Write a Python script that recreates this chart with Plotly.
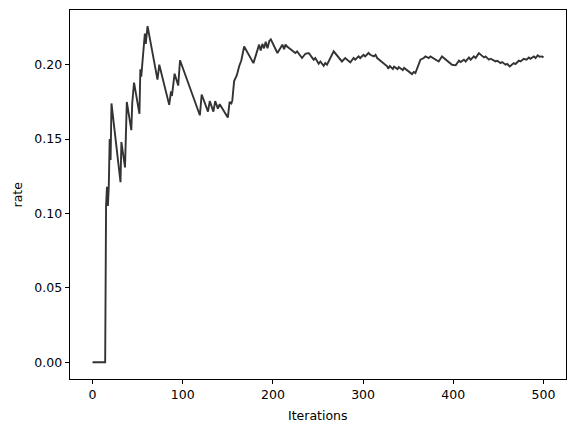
import plotly.graph_objects as go

# Vertices (iteration, rate)
iterations = [0, 14, 15, 16, 17, 18, 19, 20, 21,
              31, 32, 36, 38, 43, 44, 46, 52, 53, 54, 57, 58, 59, 61,
              72, 74, 85, 87, 88, 91, 95, 97,
              119, 121, 128, 130, 134, 136, 139, 141, 150, 152, 154, 155, 157, 160, 162.6, 165, 168.1,
              178.4, 184.7, 186.5, 188.3, 190.2, 192, 194, 196, 197.7,
              205, 210.5, 212.4, 214, 215.7, 224.9, 226.8, 232.3, 236, 239.7,
              245.2, 247, 250.8, 252.6, 256.3, 258.1, 260, 267.4, 276.5, 280.2, 285.8,
              289.5, 291.3, 295, 296.8, 300.5, 302.3, 306, 307.9,
              311.9, 313.8, 315.6, 326.7, 327.8, 329.6, 333, 334.4, 338.2, 339.6, 344, 345.5,
              354.3, 356.2, 358, 363.6, 367.3, 369.1, 372.8, 374.7, 383.8, 387.5, 398.6,
              402.7, 406.3, 408.2, 411.8, 413.7, 417.4, 419.2, 422.9, 424.8, 428.4,
              434, 435.8, 439.5, 441.4, 446.9, 448.8, 452.4, 454.3, 458, 459.8, 462.7,
              467.1, 469, 472.7, 474.6, 478.2, 481.2, 483.8, 485.6, 489.3, 491.2, 493.7, 495.9, 498.6, 500]
rate = [0.0, 0.0, 0.105, 0.118, 0.105, 0.118, 0.150, 0.136, 0.174,
        0.121, 0.148, 0.131, 0.175, 0.156, 0.174, 0.188, 0.167, 0.197, 0.192, 0.213, 0.221, 0.214, 0.226,
        0.190, 0.200, 0.173, 0.182, 0.179, 0.194, 0.186, 0.203,
        0.166, 0.180, 0.1685, 0.1755, 0.1685, 0.1755, 0.1705, 0.1735, 0.1645, 0.175, 0.174, 0.176, 0.189, 0.193, 0.199, 0.203, 0.2123,
        0.2011, 0.2135, 0.2095, 0.214, 0.211, 0.2155, 0.211, 0.216, 0.217,
        0.2079, 0.2135, 0.2105, 0.2135, 0.2123, 0.2079, 0.2090, 0.2045, 0.2074, 0.2079,
        0.2034, 0.2045, 0.2007, 0.2022, 0.1993, 0.2011, 0.2000, 0.2090, 0.2022, 0.2045, 0.2016,
        0.2045, 0.2034, 0.2056, 0.2045, 0.2067, 0.2056, 0.2079, 0.2067,
        0.2056, 0.2067, 0.2045, 0.1989, 0.1973, 0.1991, 0.1971, 0.1987, 0.1971, 0.1984, 0.1964, 0.1978,
        0.1937, 0.1951, 0.1944, 0.2034, 0.2045, 0.2056, 0.2045, 0.2056, 0.2022, 0.2056, 0.2000,
        0.1996, 0.2027, 0.2018, 0.2034, 0.2022, 0.2049, 0.2034, 0.2056, 0.2045, 0.2078,
        0.2049, 0.2056, 0.2034, 0.2040, 0.2022, 0.2027, 0.2011, 0.2018, 0.2000, 0.2005, 0.1989,
        0.2011, 0.2005, 0.2027, 0.2022, 0.2040, 0.2034, 0.2049, 0.2040, 0.2056, 0.2045, 0.2063, 0.2054, 0.2056, 0.2049]

x_ticks = [0, 100, 200, 300, 400, 500]
y_ticks = [0.00, 0.05, 0.10, 0.15, 0.20]

fig = go.Figure()
fig.add_trace(go.Scatter(x=iterations, y=rate, mode="lines",
                         line=dict(color="#333333", width=1.9),
                         showlegend=False, hoverinfo="skip"))

font = dict(family="DejaVu Sans", size=12.5, color="black")
axis_common = dict(showline=True, linecolor="black", linewidth=1, mirror=True,
                   ticks="outside", ticklen=4.4, tickwidth=1, tickcolor="black",
                   showgrid=False, zeroline=False, tickfont=font, automargin=False)

fig.update_layout(
    width=576, height=432,
    margin=dict(l=70, r=10, t=10, b=53),
    paper_bgcolor="white", plot_bgcolor="white",
    font=font,
    xaxis=dict(range=[-25, 525], tickvals=x_ticks, ticktext=[str(v) for v in x_ticks], **axis_common),
    yaxis=dict(range=[-0.0113, 0.2368], tickvals=y_ticks, ticktext=[f"{v:.2f}" for v in y_ticks], **axis_common),
    annotations=[
        dict(text="Iterations", xref="paper", yref="paper", x=0.5, y=0, yshift=-36,
             xanchor="center", yanchor="middle", showarrow=False, font=font),
        dict(text="rate", xref="paper", yref="paper", x=0, y=0.5, xshift=-53,
             xanchor="center", yanchor="middle", textangle=-90, showarrow=False, font=font),
    ],
)

fig.write_html("out.html", config={"displayModeBar": False},
               post_script="document.body.style.margin='0';document.body.style.overflow='hidden';")
